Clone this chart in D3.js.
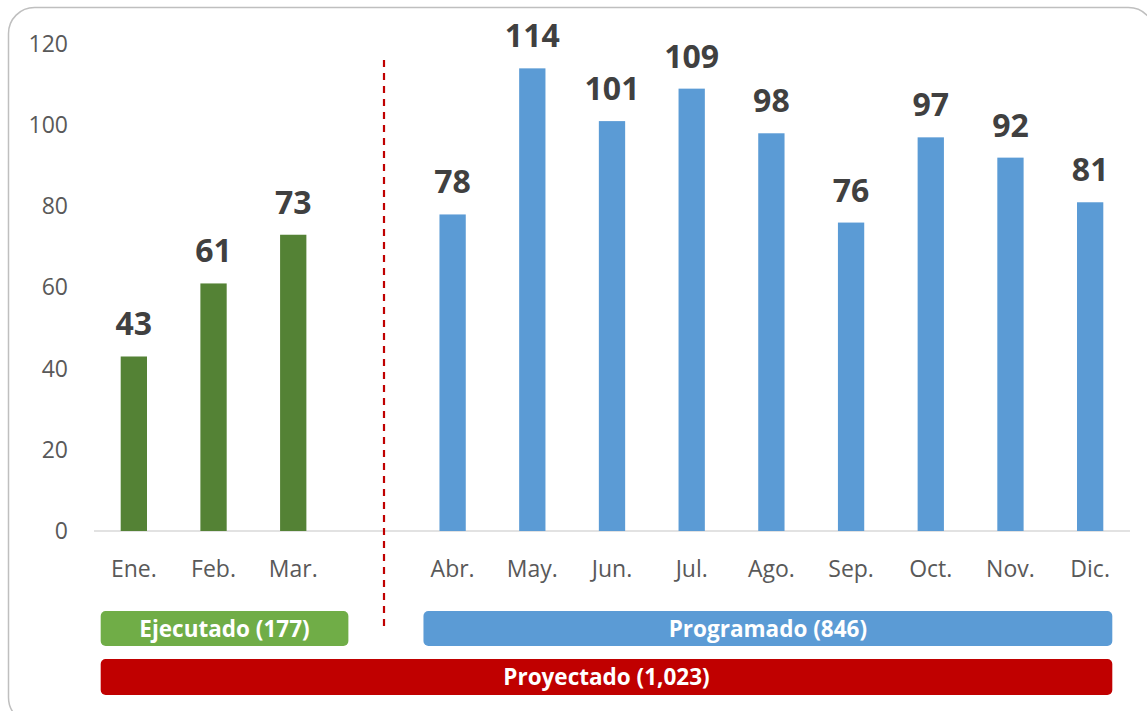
<!DOCTYPE html>
<html>
<head>
<meta charset="utf-8">
<script src="https://cdn.jsdelivr.net/npm/d3@7"></script>
<style>
  body { margin: 0; background: #fff; overflow: hidden; }
  svg { display: block; font-family: "Open Sans", "Liberation Sans", sans-serif; }
</style>
</head>
<body>
<div id="chart"></div>
<script>
// months, with an empty slot between executed and scheduled months
const months = ["Ene.", "Feb.", "Mar.", "", "Abr.", "May.", "Jun.", "Jul.", "Ago.", "Sep.", "Oct.", "Nov.", "Dic."];
const executed = [{m: "Ene.", v: 43}, {m: "Feb.", v: 61}, {m: "Mar.", v: 73}];
const programmed = [{m: "Abr.", v: 78}, {m: "May.", v: 114}, {m: "Jun.", v: 101}, {m: "Jul.", v: 109},
                    {m: "Ago.", v: 98}, {m: "Sep.", v: 76}, {m: "Oct.", v: 97}, {m: "Nov.", v: 92}, {m: "Dic.", v: 81}];
const yTicks = [0, 20, 40, 60, 80, 100, 120];
const bands = [
  {label: "Ejecutado (177)", from: "Ene.", to: "Mar.", row: 0, color: "#70ad47"},
  {label: "Programado (846)", from: "Abr.", to: "Dic.", row: 0, color: "#5b9bd5"},
  {label: "Proyectado (1,023)", from: "Ene.", to: "Dic.", row: 1, color: "#c00000"}
];

const W = 1147, H = 711;
const svg = d3.select("#chart").append("svg").attr("width", W).attr("height", H);

// outer frame (runs past the right and bottom edges)
svg.append("rect")
  .attr("x", 8.5).attr("y", 7.5).attr("width", 1146).attr("height", 716)
  .attr("rx", 26)
  .attr("fill", "#fff").attr("stroke", "#bfbfbf").attr("stroke-width", 1.5);

const x = d3.scaleBand().domain(months).range([94, 1130]).paddingInner(0.67).paddingOuter(0.335);
const y = d3.scaleLinear().domain([0, 120]).range([531, 44]);

// y axis labels, no axis line
const yAxis = svg.append("g")
  .attr("transform", "translate(94,0)")
  .call(d3.axisLeft(y).tickValues(yTicks).tickSize(0).tickPadding(26));
yAxis.select(".domain").remove();
yAxis.selectAll("text").attr("font-size", 23).attr("fill", "#595959").attr("font-family", "Open Sans");

// baseline
svg.append("line")
  .attr("x1", 94).attr("x2", 1130).attr("y1", y(0)).attr("y2", y(0))
  .attr("stroke", "#d9d9d9").attr("stroke-width", 1.5);

// x labels
const xAxis = svg.append("g")
  .attr("transform", `translate(0,${y(0)})`)
  .call(d3.axisBottom(x).tickSize(0).tickPadding(30));
xAxis.select(".domain").remove();
xAxis.selectAll("text").attr("font-size", 23).attr("fill", "#595959").attr("font-family", "Open Sans");

function drawBars(data, color) {
  const g = svg.append("g");
  g.selectAll("rect")
    .data(data)
    .enter()
    .append("rect")
    .attr("x", d => x(d.m))
    .attr("width", x.bandwidth())
    .attr("y", d => y(d.v))
    .attr("height", d => y(0) - y(d.v))
    .attr("fill", color);
  g.selectAll("text")
    .data(data)
    .enter()
    .append("text")
    .attr("x", d => x(d.m) + x.bandwidth() / 2)
    .attr("y", d => y(d.v) - 21)
    .attr("text-anchor", "middle")
    .attr("font-size", 32)
    .attr("font-weight", "bold")
    .attr("fill", "#404040")
    .text(d => d.v);
}
drawBars(executed, "#548235");
drawBars(programmed, "#5b9bd5");

// divider between executed and programmed
svg.append("line")
  .attr("x1", 384).attr("x2", 384).attr("y1", 60).attr("y2", 630)
  .attr("stroke", "#c00000").attr("stroke-width", 2.2)
  .attr("stroke-dasharray", "7,6");

// summary bands
const rowY = [611, 659];
const bandG = svg.append("g");
bands.forEach(b => {
  const x0 = x(b.from) - (b.from === "Ene." ? 20 : 16);
  const x1 = x(b.to) + x.bandwidth() + (b.to === "Dic." ? 9 : 42);
  bandG.append("rect")
    .attr("x", x0).attr("y", rowY[b.row])
    .attr("width", x1 - x0).attr("height", b.row === 0 ? 35 : 36)
    .attr("rx", 5)
    .attr("fill", b.color);
  bandG.append("text")
    .attr("x", (x0 + x1) / 2).attr("y", rowY[b.row] + 26)
    .attr("text-anchor", "middle")
    .attr("font-size", 22.5)
    .attr("font-weight", "bold")
    .attr("fill", "#fff")
    .text(b.label);
});
</script>
</body>
</html>
